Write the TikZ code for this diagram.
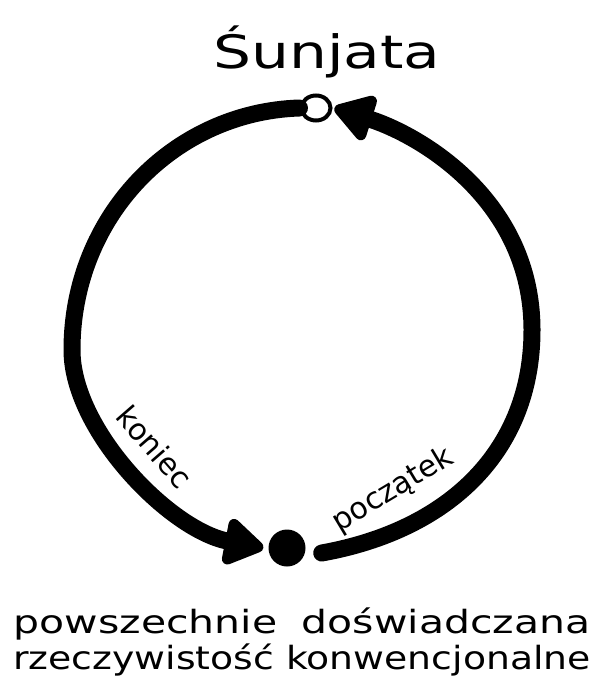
\documentclass[tikz,border=0pt]{standalone}
\usepackage{fontspec}
\setmainfont{DejaVu Sans}
\usetikzlibrary{arrows.meta,shapes.geometric}
\definecolor{inkBlack}{RGB}{0,0,0}

\begin{document}
\begin{tikzpicture}[x=1pt,y=-1pt,
  stroke/.style={draw=inkBlack,line width=17pt,line cap=round,
    -{Triangle[round,length=44pt,width=52pt]}},
  hand/.style={text=inkBlack,inner sep=0pt}]
\useasboundingbox (0,0) rectangle (603,684);
% points
\node[draw=inkBlack,ellipse,line width=4pt,minimum width=29pt,minimum height=25pt,inner sep=0pt] (top) at (316,108) {};
\node[fill=inkBlack,circle,minimum size=37pt,inner sep=0pt] (bottom) at (287,548) {};
\coordinate (leftmost) at (72,350);
\coordinate (rightmost) at (532,330);
% arcs
\draw[stroke] (top.west) .. controls (174,112) and (72,216) .. (leftmost)
  .. controls (72,430) and (170,530) .. ([xshift=-5pt]bottom.west);
\draw[stroke] ([shift={(16,5)}]bottom.east) .. controls (450,530) and (532,450) .. (rightmost)
  .. controls (532,200) and (420,135) .. ([xshift=2pt]top.east);
% labels
\node[hand,font=\fontsize{46}{50}\selectfont,xscale=1.3] (title) at (327,52) {Śunjata};
\node[hand,font=\fontsize{30}{34}\selectfont,rotate=-49] (koniec) at (155,447) {koniec};
\node[hand,font=\fontsize{30}{34}\selectfont,rotate=31] (poczatek) at (393,490) {początek};
\node[hand,font=\fontsize{32}{36}\selectfont,xscale=1.28] (line1) at (302,624) {powszechnie\hspace{0.6em}doświadczana};
\node[hand,font=\fontsize{32}{36}\selectfont,xscale=1.18] (line2) at (302,660) {rzeczywistość konwencjonalne};
\end{tikzpicture}
\end{document}
